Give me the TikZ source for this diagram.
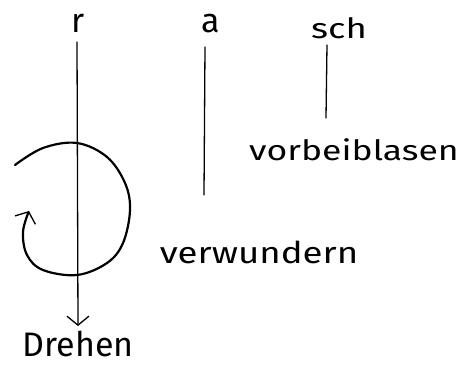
\documentclass[tikz,border=0pt]{standalone}
\usepackage{fontspec}
\setmainfont{Fira Sans}
\usetikzlibrary{arrows.meta}
\begin{document}
\begin{tikzpicture}[x=1pt,y=-1pt,
  lbl/.style={inner sep=0pt, anchor=base},
  stem/.style={line width=1.3pt, line cap=round},
  tip/.style={-{Straight Barb[length=9pt,width=22pt,line width=1.3pt]}}]
\useasboundingbox (0,0) rectangle (461,365);
% labels
\node[lbl, font=\fontsize{34}{34}\selectfont] (r) at (78,32) {r};
\node[lbl, font=\fontsize{34}{34}\selectfont] (a) at (211,32) {a};
\node[lbl, font=\fontsize{28}{28}\selectfont, xscale=1.3] (sch) at (339,38) {sch};
\node[lbl, font=\fontsize{28}{28}\selectfont, xscale=1.27] (vb) at (354,160) {vorbeiblasen};
\node[lbl, font=\fontsize{30}{30}\selectfont, xscale=1.22] (vw) at (259,263) {verwundern};
\node[lbl, font=\fontsize{34}{34}\selectfont] (dr) at (78,356) {Drehen};
% stems
\coordinate (rtop) at (77,42);
\coordinate (rend) at (78,326);
\coordinate (atop) at (205,47);
\coordinate (abot) at (204,195);
\coordinate (stop) at (327,45);
\coordinate (sbot) at (326,118);
\draw[stem, tip] (rtop) -- (rend);
\draw[stem] (atop) -- (abot);
\draw[stem] (stop) -- (sbot);
% rotation arc
\draw[line width=2.2pt, line cap=round, tip] plot[smooth, tension=0.6] coordinates {
 (15,165) (43,148) (77,143) (107,157) (125,183) (130,210) (123,243) (107,263)
 (77,275) (43,270) (27,255) (23,232) (29,211)};
\end{tikzpicture}
\end{document}
